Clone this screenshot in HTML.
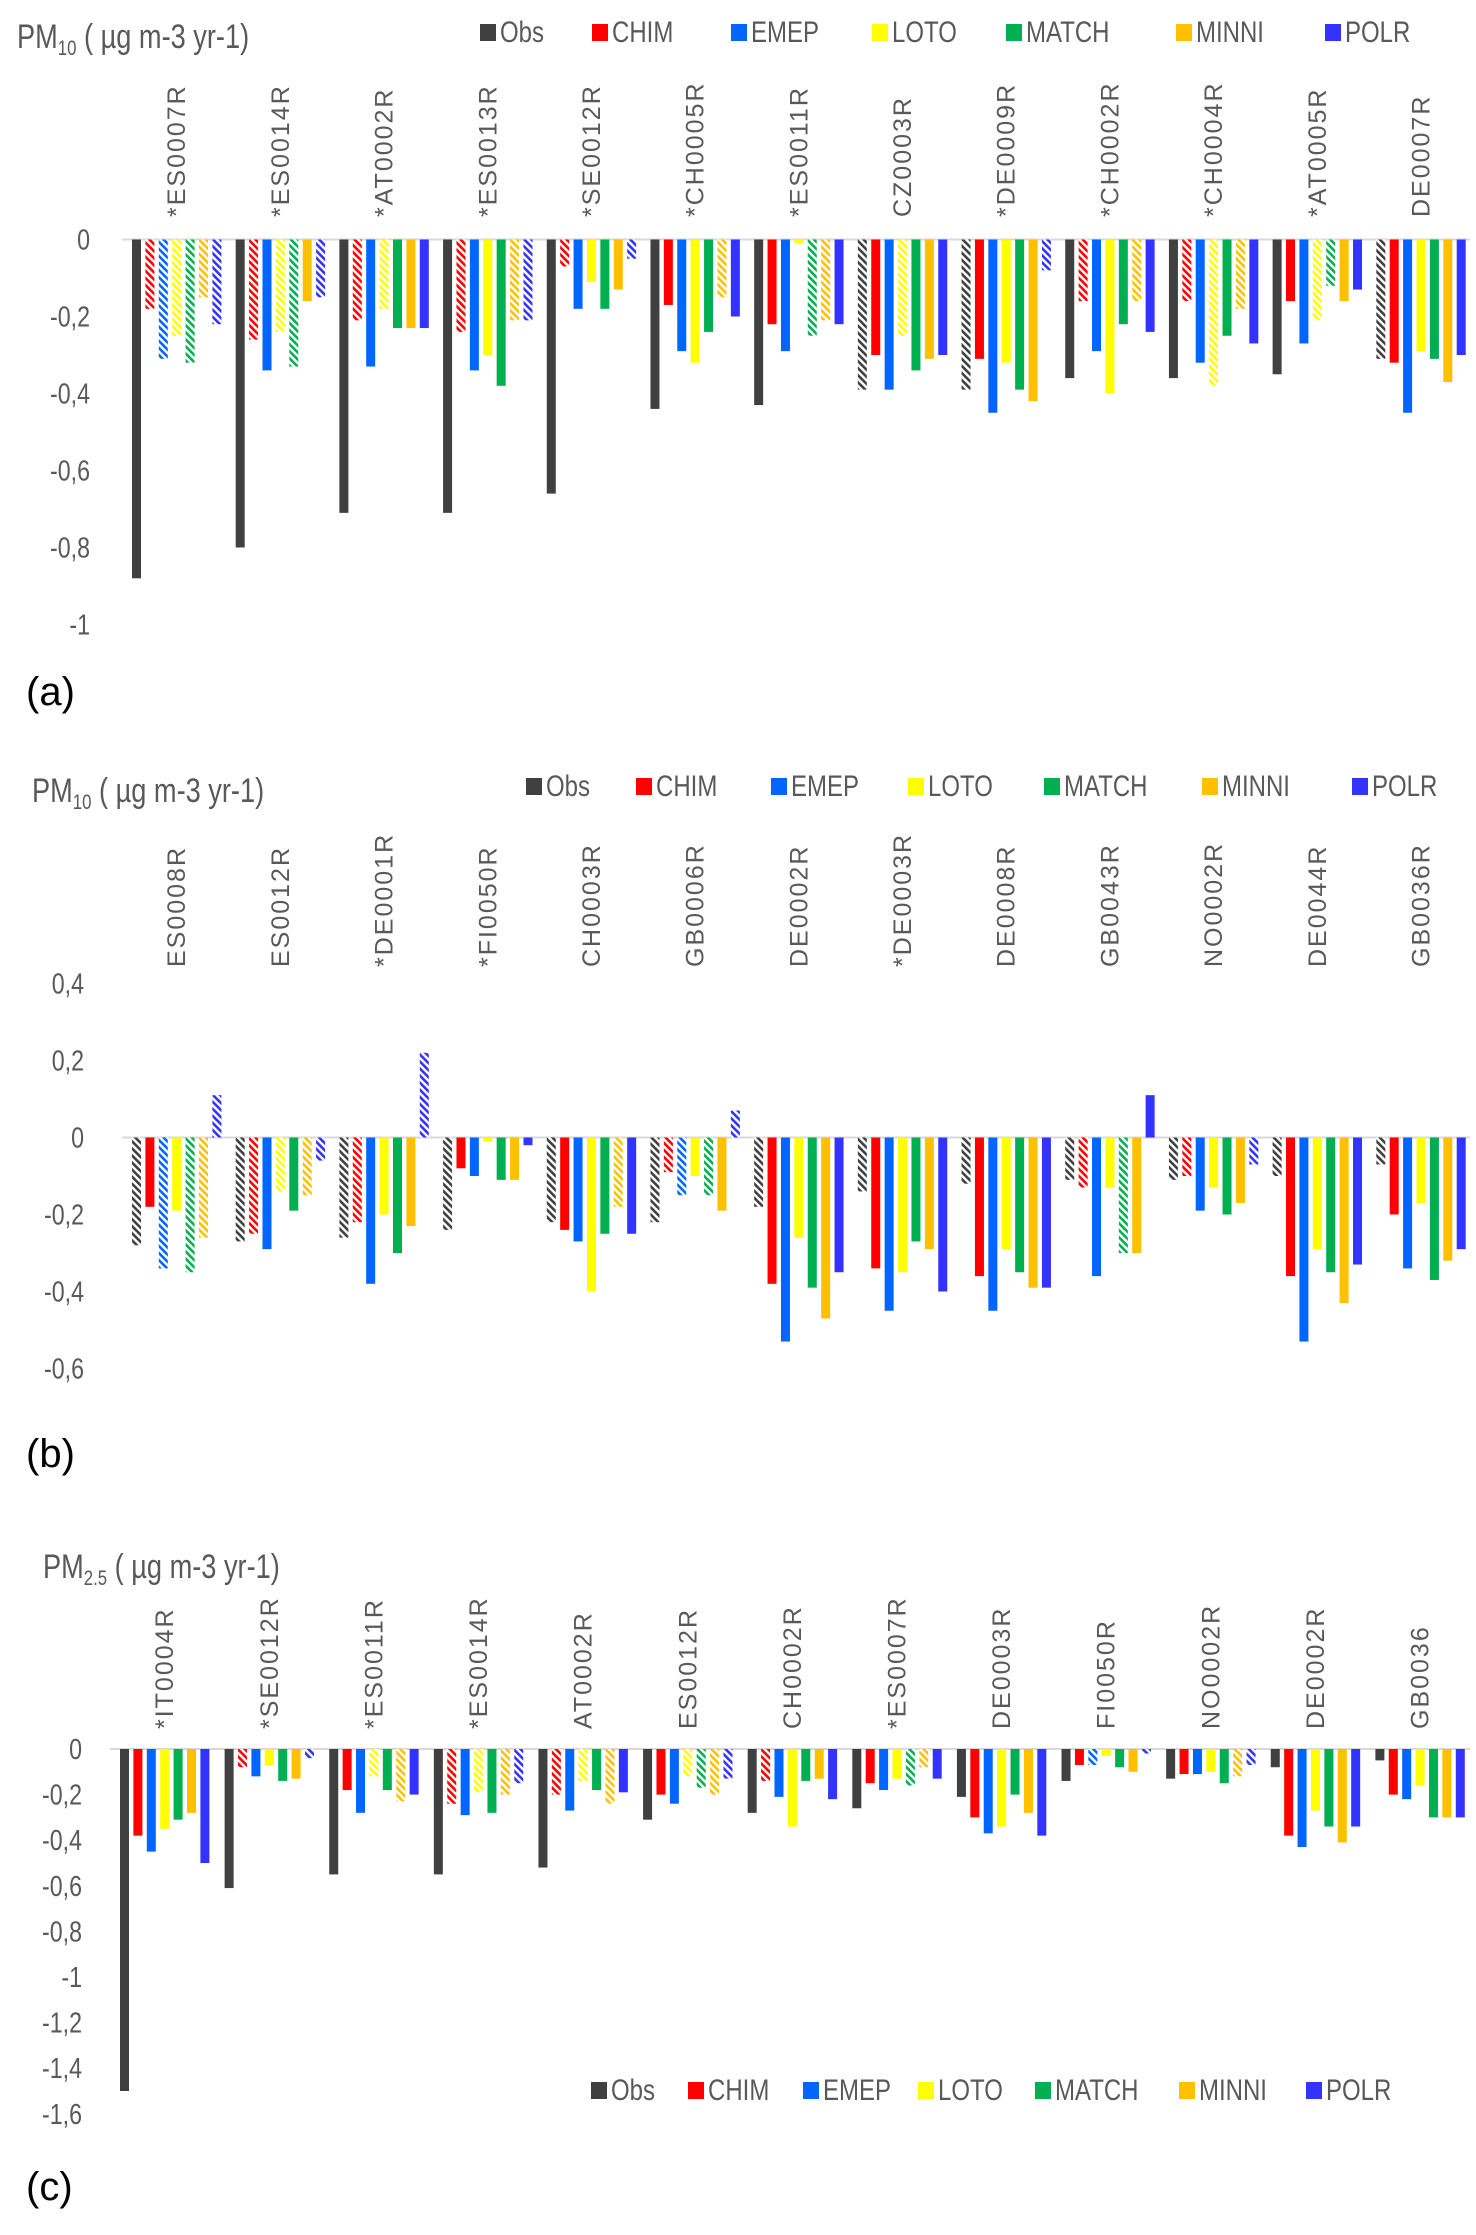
<!DOCTYPE html>
<html><head><meta charset="utf-8"><style>
html,body{margin:0;padding:0;background:#fff}
svg{display:block}
text{font-family:"Liberation Sans",sans-serif;fill:#595959}
</style></head><body>
<svg id="fig" width="1476" height="2235" viewBox="0 0 1476 2235" xmlns="http://www.w3.org/2000/svg">
<defs id="defs"></defs>
</svg>
<script>
const seriesNames = ["Obs","CHIM","EMEP","LOTO","MATCH","MINNI","POLR"];
const seriesColors = ["#404040","#ff0000","#0066ff","#ffff00","#00b050","#ffc000","#3333ff"];

const catsA = ["*ES0007R","*ES0014R","*AT0002R","*ES0013R","*SE0012R","*CH0005R","*ES0011R","CZ0003R","*DE0009R","*CH0002R","*CH0004R","*AT0005R","DE0007R"];
const obsA   = [-0.88,-0.80,-0.71,-0.71,-0.66,-0.44,-0.43,-0.39,-0.39,-0.36,-0.36,-0.35,-0.31];
const chimA  = [-0.18,-0.26,-0.21,-0.24,-0.07,-0.17,-0.22,-0.30,-0.31,-0.16,-0.16,-0.16,-0.32];
const emepA  = [-0.31,-0.34,-0.33,-0.34,-0.18,-0.29,-0.29,-0.39,-0.45,-0.29,-0.32,-0.27,-0.45];
const lotoA  = [-0.25,-0.24,-0.18,-0.30,-0.11,-0.32,-0.01,-0.25,-0.32,-0.40,-0.38,-0.21,-0.29];
const matchA = [-0.32,-0.33,-0.23,-0.38,-0.18,-0.24,-0.25,-0.34,-0.39,-0.22,-0.25,-0.12,-0.31];
const minniA = [-0.15,-0.16,-0.23,-0.21,-0.13,-0.15,-0.21,-0.31,-0.42,-0.16,-0.18,-0.16,-0.37];
const polrA  = [-0.22,-0.15,-0.23,-0.21,-0.05,-0.20,-0.22,-0.30,-0.08,-0.24,-0.27,-0.13,-0.30];
const hatchA = ["0111111","0101101","0101000","0100011","0100001","0000010","0000110","1001000","1000001","0100010","0101010","0001100","1000000"];
const ticksA = [0,-0.2,-0.4,-0.6,-0.8,-1];

const catsB = ["ES0008R","ES0012R","*DE0001R","*FI0050R","CH0003R","GB0006R","DE0002R","*DE0003R","DE0008R","GB0043R","NO0002R","DE0044R","GB0036R"];
const obsB   = [-0.28,-0.27,-0.26,-0.24,-0.22,-0.22,-0.18,-0.14,-0.12,-0.11,-0.11,-0.10,-0.07];
const chimB  = [-0.18,-0.25,-0.22,-0.08,-0.24,-0.09,-0.38,-0.34,-0.36,-0.13,-0.10,-0.36,-0.20];
const emepB  = [-0.34,-0.29,-0.38,-0.10,-0.27,-0.15,-0.53,-0.45,-0.45,-0.36,-0.19,-0.53,-0.34];
const lotoB  = [-0.19,-0.14,-0.20,-0.01,-0.40,-0.10,-0.26,-0.35,-0.29,-0.13,-0.13,-0.29,-0.17];
const matchB = [-0.35,-0.19,-0.30,-0.11,-0.25,-0.15,-0.39,-0.27,-0.35,-0.30,-0.20,-0.35,-0.37];
const minniB = [-0.26,-0.15,-0.23,-0.11,-0.18,-0.19,-0.47,-0.29,-0.39,-0.30,-0.17,-0.43,-0.32];
const polrB  = [0.11,-0.06,0.22,-0.02,-0.25,0.07,-0.35,-0.40,-0.39,0.11,-0.07,-0.33,-0.29];
const hatchB = ["1010111","1101011","1100001","1000000","1000010","1110101","1000000","1000000","1000000","1100100","1100001","1000000","1000000"];
const ticksB = [0.4,0.2,0,-0.2,-0.4,-0.6];

const catsC = ["*IT0004R","*SE0012R","*ES0011R","*ES0014R","AT0002R","ES0012R","CH0002R","*ES0007R","DE0003R","FI0050R","NO0002R","DE0002R","GB0036"];
const obsC   = [-1.50,-0.61,-0.55,-0.55,-0.52,-0.31,-0.28,-0.26,-0.21,-0.14,-0.13,-0.08,-0.05];
const chimC  = [-0.38,-0.08,-0.18,-0.24,-0.20,-0.20,-0.14,-0.15,-0.30,-0.07,-0.11,-0.38,-0.20];
const emepC  = [-0.45,-0.12,-0.28,-0.29,-0.27,-0.24,-0.21,-0.18,-0.37,-0.07,-0.11,-0.43,-0.22];
const lotoC  = [-0.35,-0.07,-0.12,-0.19,-0.14,-0.12,-0.34,-0.13,-0.34,-0.03,-0.10,-0.27,-0.16];
const matchC = [-0.31,-0.14,-0.18,-0.28,-0.18,-0.17,-0.14,-0.16,-0.20,-0.08,-0.15,-0.34,-0.30];
const minniC = [-0.28,-0.13,-0.23,-0.20,-0.24,-0.20,-0.13,-0.08,-0.28,-0.10,-0.12,-0.41,-0.30];
const polrC  = [-0.50,-0.04,-0.20,-0.15,-0.19,-0.13,-0.22,-0.13,-0.38,-0.02,-0.07,-0.34,-0.30];
const hatchC = ["0000000","0100001","0001010","0101011","0101010","0001111","0100000","0000110","0000000","0010001","0000011","0000000","0000000"];
const ticksC = [0,-0.2,-0.4,-0.6,-0.8,-1,-1.2,-1.4,-1.6];

const NS = "http://www.w3.org/2000/svg";
const svg = document.getElementById('fig');
const defs = document.getElementById('defs');
function mk(tag, attrs, parent){ const e=document.createElementNS(NS,tag); for(const k in attrs) e.setAttribute(k,attrs[k]); (parent||svg).appendChild(e); return e; }

seriesColors.forEach((c,i)=>{
  const p = mk('pattern',{id:'h'+i,patternUnits:'userSpaceOnUse',width:5,height:5,patternTransform:'rotate(-45)'},defs);
  mk('rect',{x:0,y:0,width:5,height:5,fill:'#fff'},p);
  mk('rect',{x:0,y:0,width:2.6,height:5,fill:c},p);
});

function panel(cfg){
  const g = mk('g',{});
  
  
  const y = v => cfg.zeroY - v*cfg.unit;
  const gw = (cfg.x1-cfg.x0)/cfg.cats.length;
  const t = mk('text',{x:0,y:0,'font-size':34,transform:'translate('+cfg.titleX+' '+cfg.titleY+') scale(0.8 1)'},g);
  
  
  t.innerHTML = 'PM<tspan font-size="21" dy="7">'+cfg.sub+'</tspan><tspan dy="-7"> ( µg m-3 yr-1)</tspan>';
  seriesNames.forEach((s,i)=>{
    const lx = cfg.legX[i];
    const le = mk('g',{},g);
    
    
    mk('rect',{x:lx,y:cfg.legY-18,width:16,height:17,fill:seriesColors[i]},le);
    const tt = mk('text',{x:0,y:0,'font-size':30,transform:'translate('+(lx+20)+' '+cfg.legY+') scale(0.8 1)'},le);
    tt.textContent = s;
  });
  cfg.ticks.forEach(v=>{
    const tt = mk('text',{x:0,y:0,'font-size':29,'text-anchor':'end',transform:'translate('+cfg.tickX+' '+(y(v)+10)+') scale(0.8 1)'},g);
    
    
    tt.textContent = String(v).replace('.',',');
  });
  const zl = mk('line',{x1:cfg.x0,x2:cfg.x1,y1:y(0),y2:y(0),stroke:'#d9d9d9','stroke-width':2},g);
  
  
  cfg.cats.forEach((c,ci)=>{
    const gx = cfg.x0 + ci*gw;
    cfg.series.forEach((arr,si)=>{
      const v = arr[ci];
      const bx = gx + 10 + si*13.4;
      const r = mk('rect',{x:bx,width:9,y:Math.min(y(0),y(v)),height:Math.abs(y(v)-y(0)),
        fill: cfg.hatch[ci][si]==='1' ? 'url(#h'+si+')' : seriesColors[si]},g);
      
      
    });
    const lx = gx + 10 + 3*13.4 + 13;
    const lt = mk('text',{x:lx,y:cfg.labBottom,'font-size':25,'letter-spacing':2,transform:'rotate(-90 '+lx+' '+cfg.labBottom+')'},g);
    
    
    lt.textContent = c;
  });
  const pl = mk('text',{x:26,y:cfg.letterY,'font-size':40},g);
  
  
  pl.setAttribute('style','fill:#000');
  pl.textContent = cfg.letter;
}

panel({name:'panel-a-pm10',sub:'10',cats:catsA,series:[obsA,chimA,emepA,lotoA,matchA,minniA,polrA],hatch:hatchA,ticks:ticksA,
  zeroY:239.5,unit:385,x0:122,x1:1470,titleX:17,titleY:48,legY:42,legX:[480,592,731,872,1006,1176,1325],
  tickX:90,labBottom:217,letter:'(a)',letterY:705});
panel({name:'panel-b-pm10',sub:'10',cats:catsB,series:[obsB,chimB,emepB,lotoB,matchB,minniB,polrB],hatch:hatchB,ticks:ticksB,
  zeroY:1137.5,unit:385,x0:122,x1:1470,titleX:32,titleY:802,legY:796,legX:[526,636,771,908,1044,1202,1352],
  tickX:84,labBottom:967,letter:'(b)',letterY:1467});
panel({name:'panel-c-pm25',sub:'2.5',cats:catsC,series:[obsC,chimC,emepC,lotoC,matchC,minniC,polrC],hatch:hatchC,ticks:ticksC,
  zeroY:1749,unit:228,x0:110,x1:1470,titleX:43,titleY:1578,legY:2100,legX:[591,688,803,918,1035,1179,1306],
  tickX:82,labBottom:1729,letter:'(c)',letterY:2200});
</script>
</body></html>
